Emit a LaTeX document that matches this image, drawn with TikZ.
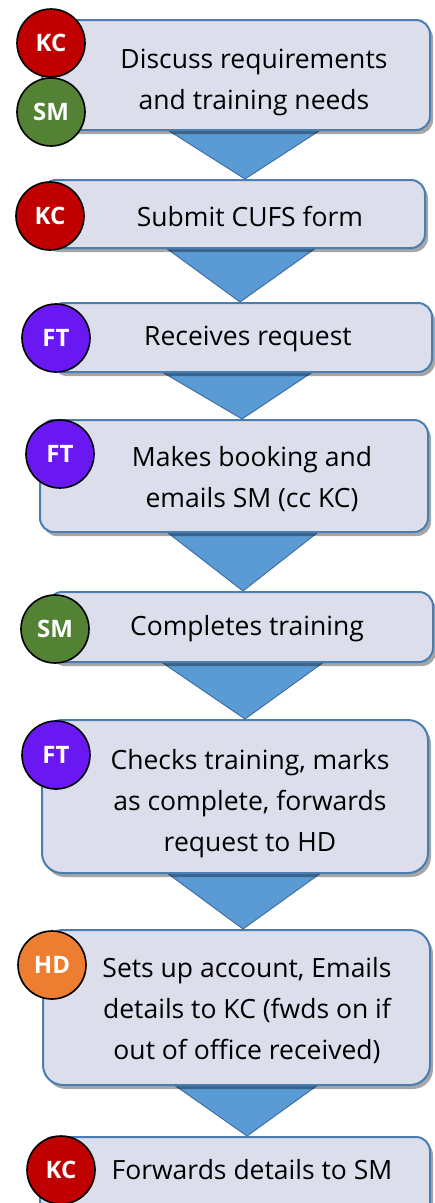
\documentclass[tikz,border=0pt]{standalone}
\usepackage{fontspec}
\setmainfont{Open Sans}
\usetikzlibrary{shadows,calc}
\definecolor{boxfill}{HTML}{DDDEEC}
\definecolor{boxline}{HTML}{4A7EB0}
\definecolor{arrowfill}{HTML}{5B9BD5}
\definecolor{arrowline}{HTML}{41719C}
\definecolor{kcred}{HTML}{C00000}
\definecolor{smgreen}{HTML}{548235}
\definecolor{ftpurple}{HTML}{6A18F2}
\definecolor{hdorange}{HTML}{ED7D31}
\pgfdeclarelayer{bg}
\pgfdeclarelayer{arrows}
\pgfsetlayers{bg,arrows,main}
\tikzset{
  stepbox/.style={draw=boxline, line width=2pt, fill=boxfill, rounded corners=14pt,
    drop shadow={shadow xshift=3pt, shadow yshift=-4pt, opacity=0.35, fill=black}},
  steptext/.style={align=center, font=\fontsize{26.5}{41}\selectfont, text=black, inner sep=0pt},
  role/.style={circle, draw=black, line width=1.6pt, minimum size=68pt, inner sep=0pt,
    text=white, font=\fontsize{24}{26}\selectfont\bfseries},
  flow/.style={fill=arrowfill, draw=arrowline, line width=1pt, line join=round}
}
\begin{document}
\begin{tikzpicture}[x=1pt,y=-1pt]
\useasboundingbox (0,0) rectangle (435,1203);
\begin{pgfonlayer}{bg}
\fill[white] (0,0) rectangle (435,1203);
\end{pgfonlayer}

% boxes
\node[stepbox, minimum width=388pt, minimum height=110pt] (b1) at (236,75) {};
\node[stepbox, minimum width=383pt, minimum height=68pt] (b2) at (233.5,214) {};
\node[stepbox, minimum width=382pt, minimum height=69pt] (b3) at (241,337.5) {};
\node[stepbox, minimum width=388pt, minimum height=112pt] (b4) at (234,476) {};
\node[stepbox, minimum width=385pt, minimum height=70pt] (b5) at (240.5,627) {};
\node[stepbox, minimum width=386pt, minimum height=153pt, rounded corners=20pt] (b6) at (235,796.5) {};
\node[stepbox, minimum width=387pt, minimum height=155pt, rounded corners=20pt] (b7) at (236.5,1007.5) {};
\node[stepbox, minimum width=390pt, minimum height=80pt] (b8) at (235,1177) {};

% arrows
\begin{pgfonlayer}{arrows}
\draw[flow] ($(b1.south)+(-73,-4)$) -- ($(b1.south)+(89,-4)$) -- ($(b2.north)+(11.5,0)$) -- cycle;
\draw[flow] ($(b2.south)+(-71.5,-4)$) -- ($(b2.south)+(86.5,-4)$) -- ($(b3.north)+(-1,0)$) -- cycle;
\draw[flow] ($(b3.south)+(-84,-4)$) -- ($(b3.south)+(76,-4)$) -- ($(b4.north)+(8,0)$) -- cycle;
\draw[flow] ($(b4.south)+(-71,-4)$) -- ($(b4.south)+(88,-4)$) -- ($(b5.north)+(2.5,0)$) -- cycle;
\draw[flow] ($(b5.south)+(-83.5,-4)$) -- ($(b5.south)+(87.5,-4)$) -- ($(b6.north)+(10,0)$) -- cycle;
\draw[flow] ($(b6.south)+(-72,-4)$) -- ($(b6.south)+(90,-4)$) -- ($(b7.north)+(6.5,0)$) -- cycle;
\draw[flow] ($(b7.south)+(-66.5,-4)$) -- ($(b7.south)+(85.5,-4)$) -- ($(b8.north)+(12,0)$) -- cycle;
\end{pgfonlayer}

% texts
\node[steptext] (t1) at (254,82) {Discuss requirements\\and training needs};
\node[steptext] (t2) at (250,216) {Submit CUFS form};
\node[steptext] (t3) at (248,339) {Receives request};
\node[steptext] (t4) at (252,479) {Makes booking and\\emails SM (cc KC)};
\node[steptext] (t5) at (247,629) {Completes training};
\node[steptext] (t6) at (250,804) {Checks training, marks\\as complete, forwards\\request to HD};
\node[steptext] (t7) at (247,1011) {Sets up account, Emails\\details to KC (fwds on if\\out of office received)};
\node[steptext] (t8) at (252,1170) {Forwards details to SM};

% role circles
\node[role, fill=kcred] (c1) at (51,43) {KC};
\node[role, fill=smgreen] (c1b) at (51,112) {SM};
\node[role, fill=kcred] (c2) at (50,216) {KC};
\node[role, fill=ftpurple] (c3) at (56,338) {FT};
\node[role, fill=ftpurple] (c4) at (60,454) {FT};
\node[role, fill=smgreen] (c5) at (55,629) {SM};
\node[role, fill=ftpurple] (c6) at (56,755) {FT};
\node[role, fill=hdorange] (c7) at (52,965) {HD};
\node[role, fill=kcred] (c8) at (61,1170) {KC};
\end{tikzpicture}
\end{document}
